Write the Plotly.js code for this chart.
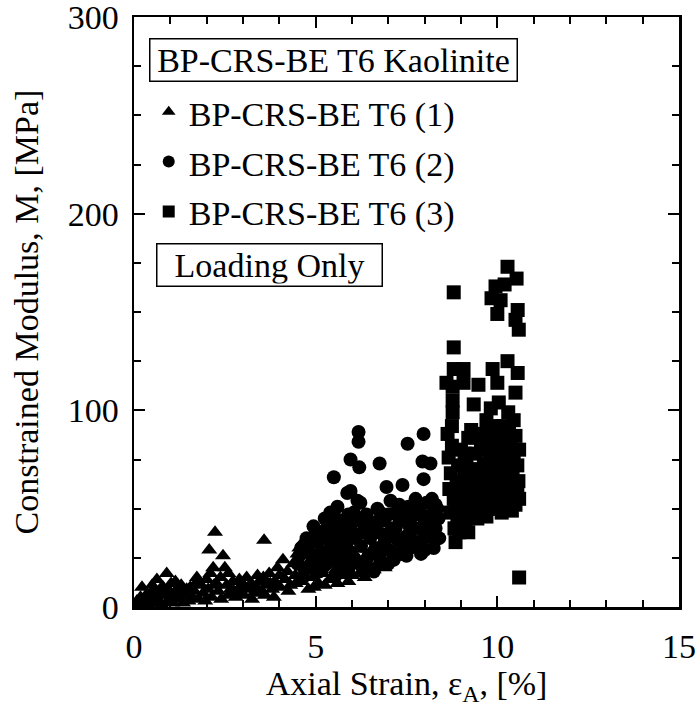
<!DOCTYPE html>
<html>
<head>
<meta charset="utf-8">
<script src="https://cdn.plot.ly/plotly-3.0.1.min.js"></script>
<style>html,body{margin:0;padding:0;background:#fff;}</style>
</head>
<body>
<div id="chart" style="width:698px;height:710px;"></div>
<script>
// Series 1: BP-CRS-BE T6 (1) – triangles
const t1X = [0.03,0.08,0.12,0.18,0.22,0.28,0.33,0.38,0.42,0.47,0.5,0.52,0.56,0.6,0.63,0.68,0.7,0.72,0.76,0.8,0.85,0.9,0.94,0.98,1.0,1.02,1.06,1.1,1.14,1.18,1.22,1.28,1.3,1.35,1.42,1.45,1.5,1.55,1.6,1.66,1.7,1.73,1.78,1.85,1.9,1.96,2.0,2.04,2.07,2.1,2.14,2.18,2.2,2.23,2.27,2.32,2.38,2.4,2.45,2.5,2.55,2.6,2.6,2.66,2.72,2.75,2.8,2.88,2.9,2.95,3.02,3.05,3.1,3.15,3.22,3.25,3.3,3.38,3.4,3.45,3.52,3.56,3.58,3.6,3.65,3.72,3.75,3.8,3.85,3.88,3.95,4.0,4.02,4.1,4.16,4.22,4.25,4.3,4.38,4.44,4.45,4.5,4.55,4.6,4.65,4.7,4.72,4.8,4.86,4.92,4.95,5.0,5.08,5.1,5.15,5.2,5.25,5.3,5.38,5.45,5.5,5.55,5.6,5.65,5.75,5.85,5.9,6.0,6.05,6.1,6.2,6.3,6.35,6.4,6.5,6.6,6.65,6.8,6.9,7.0,7.1];
const t1Y = [1,3,0.5,5,10,2,6,1.5,4,7,11,8,2,5,14,3,6,9,1,10,6,17,3,8,5,12,2,5,13,9,4,7,11,2,6,9,3,10,5,8,12,15,4,11,7,3,14,9,29,17,5,20,11,38,12,8,15,4,26,20,11,6,17,9,13,8,5,8,14,11,6,10,15,9,12,4,7,10,16,13,8,15,34,6,11,17,12,9,5,13,20,16,10,24,14,18,8,11,22,16,12,27,30,13,33,15,20,9,24,15,10,19,12,20,26,17,11,22,14,28,23,19,12,16,24,20,13,16,21,26,17,22,15,41,28,19,21,25,20,30,24];

// Series 2: BP-CRS-BE T6 (2) – circles
const t2X = [4.5,4.55,4.6,4.65,4.7,4.75,4.8,4.85,4.9,4.94,5.0,5.0,5.05,5.1,5.1,5.15,5.2,5.2,5.25,5.3,5.3,5.35,5.35,5.4,5.45,5.45,5.5,5.5,5.55,5.55,5.6,5.6,5.65,5.65,5.7,5.7,5.75,5.8,5.8,5.8,5.85,5.87,5.9,5.9,5.95,5.96,5.96,6.0,6.05,6.05,6.1,6.1,6.15,6.18,6.18,6.2,6.2,6.2,6.23,6.25,6.3,6.3,6.35,6.4,6.4,6.45,6.5,6.5,6.55,6.6,6.6,6.6,6.65,6.7,6.7,6.75,6.76,6.78,6.8,6.85,6.85,6.9,6.9,6.95,7.0,7.0,7.0,7.05,7.06,7.1,7.1,7.15,7.2,7.2,7.25,7.3,7.3,7.35,7.39,7.4,7.45,7.45,7.5,7.5,7.53,7.55,7.55,7.6,7.6,7.65,7.7,7.7,7.75,7.75,7.8,7.85,7.85,7.9,7.9,7.94,7.97,7.97,8.0,8.0,8.0,8.05,8.1,8.1,8.15,8.16,8.2,8.2,8.25,8.3,8.3,8.35,8.38,8.4];
const t2Y = [22,26,30,15,19,35,31,27,20,41,23,37,33,18,27,38,28,20,45,22,40,34,28,48,26,33,66,40,16,45,51,31,22,38,44,25,36,27,42,20,32,58,18,47,28,75,59,38,25,48,44,35,54,89,84,71,45,22,53,31,20,38,40,47,24,26,35,42,19,43,28,18,30,50,38,26,73,48,23,37,44,45,33,61,29,47,22,36,54,40,28,24,48,40,34,52,45,27,62,32,44,50,36,26,83,51,42,30,38,46,40,33,55,47,33,49,40,27,52,74,88,65,43,35,29,53,36,46,40,73,55,47,30,40,52,50,45,35];

// Series 3: BP-CRS-BE T6 (3) – squares
const t3X = [8.6,8.63,8.66,8.68,8.7,8.72,8.75,8.75,8.77,8.77,8.77,8.8,8.8,8.8,8.8,8.82,8.85,8.85,8.88,8.9,8.9,8.92,8.95,9.0,9.0,9.02,9.05,9.07,9.07,9.1,9.1,9.12,9.15,9.18,9.2,9.2,9.22,9.25,9.28,9.3,9.32,9.35,9.35,9.38,9.4,9.42,9.45,9.45,9.48,9.5,9.52,9.55,9.55,9.58,9.6,9.6,9.63,9.65,9.66,9.7,9.7,9.73,9.75,9.75,9.78,9.8,9.82,9.84,9.85,9.85,9.87,9.88,9.9,9.9,9.95,9.95,9.95,9.97,10.0,10.0,10.0,10.02,10.04,10.05,10.05,10.07,10.09,10.09,10.1,10.12,10.15,10.15,10.18,10.2,10.2,10.22,10.25,10.25,10.28,10.28,10.28,10.3,10.3,10.32,10.35,10.35,10.38,10.4,10.42,10.45,10.45,10.48,10.5,10.5,10.5,10.5,10.53,10.55,10.55,10.56,10.56,10.58,10.59,10.6,10.6,10.6];
const t3Y = [114,88,76,60,48,68,82,92,112,105,99,160,132,121,55,40,33,50,64,46,55,72,38,58,80,50,45,121,114,66,78,43,74,55,86,38,62,48,90,70,58,103,65,52,78,64,45,88,113,70,57,83,62,50,88,64,73,80,55,95,46,81,66,52,58,75,101,157,50,85,121,68,92,60,163,78,66,53,149,114,70,62,104,84,50,56,156,87,74,48,66,92,80,164,58,72,52,62,173,125,81,99,64,90,56,84,76,49,68,95,78,60,146,109,87,52,167,72,58,151,119,64,141,80,55,15];

const seriesNames = ["BP-CRS-BE T6 (1)", "BP-CRS-BE T6 (2)", "BP-CRS-BE T6 (3)"];
const xTickStep = 5;
const yTickStep = 100;

const FONT = "Liberation Serif, Times New Roman, serif";
const big = (s) => '<span style="font-size:34px">' + s + '</span>';

const traces = [
  {x: t1X, y: t1Y, name: big(seriesNames[0]), type: 'scatter', mode: 'markers',
   marker: {symbol: 'triangle-up', size: 14, color: '#000'}},
  {x: t2X, y: t2Y, name: big(seriesNames[1]), type: 'scatter', mode: 'markers',
   marker: {symbol: 'circle', size: 14, color: '#000'}},
  {x: t3X, y: t3Y, name: big(seriesNames[2]), type: 'scatter', mode: 'markers',
   marker: {symbol: 'square', size: 14, color: '#000'}}
];

const axisCommon = {
  showgrid: false, zeroline: false, showline: true, linecolor: '#000', linewidth: 2.5,
  mirror: 'ticks', ticks: 'inside', ticklen: 11, tickwidth: 2, tickcolor: '#000',
  tickmode: 'linear', tick0: 0, ticklabeloverflow: 'allow',
  tickfont: {family: FONT, size: 34, color: '#000'}
};

const layout = {
  width: 698, height: 710,
  margin: {l: 134, r: 19, t: 17, b: 103},
  paper_bgcolor: '#fff', plot_bgcolor: '#fff',
  font: {family: FONT, color: '#000'},
  showlegend: true,
  legend: {x: 0.027, y: 0.89, xanchor: 'left', yanchor: 'top', bgcolor: 'rgba(0,0,0,0)',
           font: {family: FONT, size: 36, color: '#000'}, itemsizing: 'constant', traceorder: 'normal'},
  xaxis: Object.assign({}, axisCommon, {
    range: [0, 15], dtick: xTickStep, ticklabelstandoff: 8,
    minor: {dtick: 1, ticks: 'inside', ticklen: 7, tickwidth: 2, tickcolor: '#000'},
    title: {text: 'Axial Strain, ε<sub>A</sub>, [%]', font: {family: FONT, size: 34, color: '#000'}, standoff: 6}
  }),
  yaxis: Object.assign({}, axisCommon, {
    range: [0, 300], dtick: yTickStep, ticklabelstandoff: 6,
    minor: {dtick: 25, ticks: 'inside', ticklen: 7, tickwidth: 2, tickcolor: '#000'},
    title: {text: 'Constrained Modulus, M, [MPa]', font: {family: FONT, size: 34, color: '#000'}, standoff: 19}
  }),
  annotations: [
    {xref: 'paper', yref: 'paper', x: 0.0275, y: 0.964, xanchor: 'left', yanchor: 'top',
     text: 'BP-CRS-BE T6 Kaolinite', showarrow: false, bordercolor: '#000', borderwidth: 1.5, borderpad: 2,
     width: 362, font: {family: FONT, size: 34, color: '#000'}, bgcolor: '#fff'},
    {xref: 'paper', yref: 'paper', x: 0.0404, y: 0.617, xanchor: 'left', yanchor: 'top',
     text: 'Loading Only', showarrow: false, bordercolor: '#000', borderwidth: 1.5, borderpad: 2,
     width: 220, font: {family: FONT, size: 34, color: '#000'}, bgcolor: '#fff'}
  ]
};

Plotly.newPlot('chart', traces, layout, {displayModeBar: false, staticPlot: true});
</script>
</body>
</html>
